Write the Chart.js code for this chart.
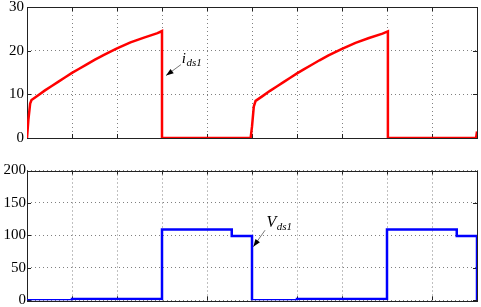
<!DOCTYPE html>
<html>
<head>
<meta charset="utf-8">
<script src="https://cdn.jsdelivr.net/npm/chart.js@4"></script>
<style>
  html, body { margin: 0; padding: 0; background: #fff; }
  #wrap { position: relative; width: 481px; height: 307px; }
  #c1 { position: absolute; left: 0; top: 0; }
  #c2 { position: absolute; left: 0; top: 150px; }
</style>
</head>
<body>
<div id="wrap">
  <canvas id="c1" width="481" height="150"></canvas>
  <canvas id="c2" width="481" height="157"></canvas>
</div>
<script>
// drain current i_ds1 (top)
const tempoI = [0, 0.03, 0.07, 0.1, 0.25, 0.4, 0.55, 0.7, 0.85, 1, 1.15, 1.3, 1.5, 1.7, 2, 2.3, 2.6, 2.9, 3, 3,
                4.97, 5, 5.04, 5.08, 5.25, 5.4, 5.55, 5.7, 5.85, 6, 6.15, 6.3, 6.5, 6.7, 7, 7.3, 7.6, 7.9, 8.02, 8.02,
                9.98, 10];
const correnteI = [0, 4.1, 7.9, 8.7, 9.8, 10.9, 11.9, 12.9, 13.9, 14.9, 15.8, 16.7, 17.9, 19.0, 20.5, 21.9, 23.0, 24.0, 24.5, 0,
                   0, 2.6, 7.2, 8.5, 9.7, 10.8, 11.8, 12.8, 13.8, 14.8, 15.7, 16.6, 17.8, 18.9, 20.4, 21.8, 22.9, 23.9, 24.4, 0,
                   0, 1.5];

// drain-source voltage V_ds1 (bottom)
const tempoV = [0, 1, 1, 3, 3, 4.55, 4.55, 5, 5, 6, 6, 8, 8, 9.55, 9.55, 10, 10];
const tensaoV = [0, 0, 2, 2, 109, 109, 99, 99, 0, 0, 2, 2, 109, 109, 99, 99, 0];

const ticksXY = [0, 1, 2, 3, 4, 5, 6, 7, 8, 9, 10];
const ticksTopo = [0, 10, 20, 30];
const ticksBaixo = [0, 50, 100, 150, 200];

const fonte = "'Liberation Serif', 'Times New Roman', serif";

function pontos(xs, ys) {
    return xs.map((x, i) => ({ x: x, y: ys[i] }));
}

// moldura com marcas para dentro
const molduraPlugin = {
    id: 'moldura',
    beforeDatasetsDraw(chart) {
        const { ctx, chartArea: a, scales } = chart;
        ctx.save();
        ctx.strokeStyle = '#222';
        ctx.lineWidth = 1;
        ctx.strokeRect(Math.round(a.left) + 0.5, Math.round(a.top) + 0.5,
            Math.round(a.right - a.left), Math.round(a.bottom - a.top));
        ctx.beginPath();
        scales.x.ticks.forEach(t => {
            const px = Math.round(scales.x.getPixelForValue(t.value)) + 0.5;
            ctx.moveTo(px, a.top); ctx.lineTo(px, a.top + 4);
            ctx.moveTo(px, a.bottom); ctx.lineTo(px, a.bottom - 4);
        });
        scales.y.ticks.forEach(t => {
            const py = Math.round(scales.y.getPixelForValue(t.value)) + 0.5;
            ctx.moveTo(a.left, py); ctx.lineTo(a.left + 4, py);
            ctx.moveTo(a.right, py); ctx.lineTo(a.right - 4, py);
        });
        ctx.stroke();
        ctx.restore();
    },
    afterDraw(chart, args, opts) {
        if (!opts.rotulo) return;
        const { ctx, scales } = chart;
        const r = opts.rotulo;
        const px = v => scales.x.getPixelForValue(v);
        const py = v => scales.y.getPixelForValue(v);
        ctx.save();
        // seta
        const x0 = px(r.cauda[0]), y0 = py(r.cauda[1]);
        const x1 = px(r.ponta[0]), y1 = py(r.ponta[1]);
        ctx.strokeStyle = '#555';
        ctx.lineWidth = 0.8;
        ctx.beginPath();
        ctx.moveTo(x0, y0); ctx.lineTo(x1, y1);
        ctx.stroke();
        const ang = Math.atan2(y1 - y0, x1 - x0);
        ctx.fillStyle = '#000';
        ctx.beginPath();
        ctx.moveTo(x1, y1);
        ctx.lineTo(x1 - 8 * Math.cos(ang - 0.35), y1 - 8 * Math.sin(ang - 0.35));
        ctx.lineTo(x1 - 8 * Math.cos(ang + 0.35), y1 - 8 * Math.sin(ang + 0.35));
        ctx.closePath();
        ctx.fill();
        // texto
        const tx = px(r.texto[0]), ty = py(r.texto[1]);
        ctx.fillStyle = '#000';
        ctx.textBaseline = 'alphabetic';
        ctx.font = 'italic ' + r.tam + 'px ' + fonte;
        ctx.fillText(r.letra, tx, ty);
        const w = ctx.measureText(r.letra).width;
        ctx.font = 'italic 11px ' + fonte;
        ctx.fillText(r.sub, tx + w + 0.5, ty + 3);
        ctx.restore();
    }
};

function criarGrafico(id, dados, cor, ticksY, padEsq, pad, rotulo) {
    const canvas = document.getElementById(id);
    return new Chart(canvas.getContext('2d'), {
        type: 'line',
        data: {
            datasets: [{
                data: dados,
                borderColor: cor,
                borderWidth: 2.5,
                pointRadius: 0,
                tension: 0,
                fill: false
            }]
        },
        options: {
            responsive: false,
            animation: false,
            layout: { padding: pad },
            plugins: {
                legend: { display: false },
                tooltip: { enabled: false },
                moldura: { rotulo: rotulo }
            },
            scales: {
                x: {
                    type: 'linear',
                    min: 0,
                    max: 10,
                    afterBuildTicks: s => { s.ticks = ticksXY.map(v => ({ value: v })); },
                    afterFit: s => { s.height = 0; s.paddingLeft = 0; s.paddingRight = 0; },
                    ticks: { display: false },
                    grid: { color: '#808080', lineWidth: 1, drawTicks: false },
                    border: { display: false, dash: [1, 3] }
                },
                y: {
                    min: ticksY[0],
                    max: ticksY[ticksY.length - 1],
                    afterBuildTicks: s => { s.ticks = ticksY.map(v => ({ value: v })); },
                    afterFit: s => { s.width = 27; s.paddingTop = 0; s.paddingBottom = 0; },
                    ticks: {
                        color: '#000',
                        padding: padEsq,
                        autoSkip: false,
                        font: { family: fonte, size: 15 }
                    },
                    grid: { color: '#808080', lineWidth: 1, drawTicks: false },
                    border: { display: false, dash: [1, 3] }
                }
            }
        },
        plugins: [molduraPlugin]
    });
}

document.addEventListener('DOMContentLoaded', function() {
    criarGrafico('c1', pontos(tempoI, correnteI), '#ff0000', ticksTopo, 3,
        { left: 0, right: 4, top: 7, bottom: 12 },
        { letra: 'i', sub: 'ds1', tam: 15, texto: [3.44, 17.2], cauda: [3.42, 16.8], ponta: [3.09, 14.3] });

    criarGrafico('c2', pontos(tempoV, tensaoV), '#0000ff', ticksBaixo, 1,
        { left: 0, right: 4, top: 20.5, bottom: 6.7 },
        { letra: 'V', sub: 'ds1', tam: 16, texto: [5.32, 113.5], cauda: [5.29, 108], ponta: [5.03, 82.5] });
});
</script>
</body>
</html>
